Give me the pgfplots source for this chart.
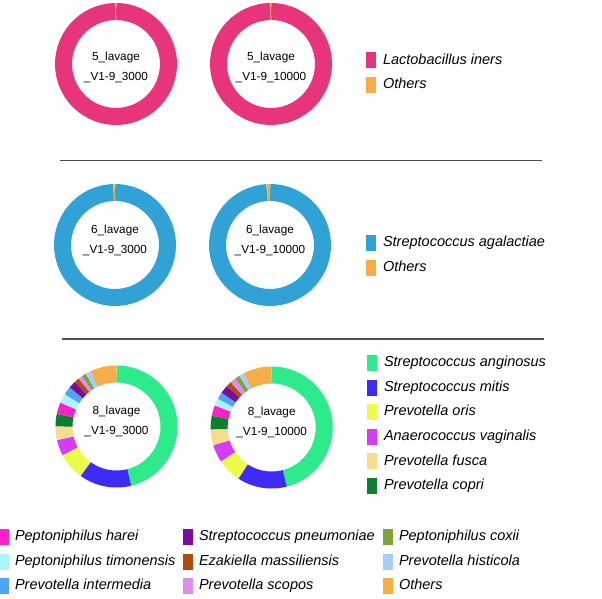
\documentclass[border=0pt]{standalone}
\usepackage{pgfplots}
\pgfplotsset{compat=1.18}
\usepackage{fontspec}
\setmainfont{Liberation Sans}

\definecolor{pinkL}{HTML}{E8347A}
\definecolor{othersC}{HTML}{F5AD47}
\definecolor{agalC}{HTML}{30A2D6}
\definecolor{angC}{HTML}{2DEB8A}
\definecolor{mitisC}{HTML}{3F2BF7}
\definecolor{orisC}{HTML}{EDFA48}
\definecolor{vagC}{HTML}{D63CF7}
\definecolor{fuscaC}{HTML}{F7DC8E}
\definecolor{copriC}{HTML}{0A802C}
\definecolor{hareiC}{HTML}{FC21C9}
\definecolor{timonC}{HTML}{A8F5FA}
\definecolor{intermC}{HTML}{50A5F7}
\definecolor{pneumC}{HTML}{7D0BA0}
\definecolor{ezakC}{HTML}{B04D0D}
\definecolor{scoposC}{HTML}{E08CEB}
\definecolor{coxiiC}{HTML}{7DA33A}
\definecolor{histC}{HTML}{A8CCFA}
\definecolor{sepgray}{HTML}{4D4D4D}

\newcommand{\legfont}{\fontsize{14.5}{17}\selectfont\itshape}
\newcommand{\labfont}{\fontsize{11.75}{20}\selectfont}

% draw donut segments: list of colour/percentage, clockwise from 12 o'clock
\newcommand{\donutsegs}[1]{%
  \gdef\cum{0}%
  \foreach \c/\v in {#1}{%
    \pgfmathsetmacro\newcum{\cum+\v}%
    \edef\temp{\noexpand\addplot[draw=\c, line width=17pt, line cap=butt, line join=round, no markers, domain=\cum:\newcum, samples=60] ({52.5*sin(3.6*x)},{52.5*cos(3.6*x)});}%
    \temp
    \xdef\cum{\newcum}%
  }%
}

\pgfplotsset{
  donut/.style={scale only axis, width=122pt, height=122pt,
    xmin=-61, xmax=61, ymin=-61, ymax=61, hide axis, clip=false, anchor=center},
  legax/.style={scale only axis, width=1pt, height=1pt, hide axis,
    xmin=0, xmax=1, ymin=0, ymax=1, anchor=north west,
    legend cell align=left,
    legend image code/.code={\fill[##1, draw=none] (0pt,-8pt) rectangle (10pt,8pt);},
    legend style={at={(0,1)}, anchor=north west, draw=none, fill=none,
      inner sep=0pt, outer sep=0pt, row sep=8.6pt, font=\legfont,
      nodes={inner xsep=#1, inner ysep=0pt, text height=10.5pt, text depth=3pt}}},
  legax/.default=6pt
}

\begin{document}
\begin{tikzpicture}[x=1pt,y=1pt]
\useasboundingbox (0,0) rectangle (602,599);
\clip (0,0) rectangle (602,599);

% ---------- 5_lavage ----------
\begin{axis}[donut, at={(116pt,535pt)}]
\donutsegs{pinkL/99.8, othersC/0.2}
\end{axis}
\begin{axis}[donut, at={(271pt,535pt)}]
\donutsegs{pinkL/99.8, othersC/0.2}
\end{axis}
\node[font=\labfont, align=center] at (116,532) {5\_lavage\\\_V1-9\_3000};
\node[font=\labfont, align=center] at (271,532) {5\_lavage\\\_V1-9\_10000};

\begin{axis}[legax=7pt, at={(366pt,546.5pt)}]
\addlegendimage{fill=pinkL}\addlegendentry{Lactobacillus iners}
\addlegendimage{fill=othersC}\addlegendentry{Others}
\end{axis}

\draw[sepgray, line width=1.5pt] (60,438.3) -- (542,438.3);

% ---------- 6_lavage ----------
\begin{axis}[donut, at={(115pt,354pt)}]
\donutsegs{agalC/99.6, othersC/0.4}
\end{axis}
\begin{axis}[donut, at={(270pt,354pt)}]
\donutsegs{agalC/99.1, othersC/0.9}
\end{axis}
\node[font=\labfont, align=center] at (115,359) {6\_lavage\\\_V1-9\_3000};
\node[font=\labfont, align=center] at (270,359) {6\_lavage\\\_V1-9\_10000};

\begin{axis}[legax=7pt, at={(366pt,364pt)}]
\addlegendimage{fill=agalC}\addlegendentry{Streptococcus agalactiae}
\addlegendimage{fill=othersC}\addlegendentry{Others}
\end{axis}

\draw[sepgray, line width=1.5pt] (62,260) -- (544,260);

% ---------- 8_lavage ----------
\begin{axis}[donut, at={(116.5pt,172.5pt)}]
\donutsegs{angC/46.1, mitisC/13.9, orisC/7.2, vagC/4.2, fuscaC/3.6, copriC/3.3,
  hareiC/3.1, timonC/2.5, intermC/2.2, pneumC/1.9, ezakC/1.4, scoposC/1.1,
  coxiiC/1.1, histC/1.4, othersC/7.0}
\end{axis}
\begin{axis}[donut, at={(271.7pt,171.5pt)}]
\donutsegs{angC/46.0, mitisC/13.2, orisC/6.4, vagC/4.7, fuscaC/4.2, copriC/3.6,
  hareiC/2.8, timonC/1.9, intermC/1.9, pneumC/2.2, ezakC/1.4, scoposC/1.5,
  coxiiC/1.3, histC/1.3, othersC/7.6}
\end{axis}
\node[font=\labfont, align=center] at (116.5,177.5) {8\_lavage\\\_V1-9\_3000};
\node[font=\labfont, align=center] at (271.7,176.5) {8\_lavage\\\_V1-9\_10000};

\begin{axis}[legax=7pt, at={(367pt,244pt)}]
\addlegendimage{fill=angC}\addlegendentry{Streptococcus anginosus}
\addlegendimage{fill=mitisC}\addlegendentry{Streptococcus mitis}
\addlegendimage{fill=orisC}\addlegendentry{Prevotella oris}
\addlegendimage{fill=vagC}\addlegendentry{Anaerococcus vaginalis}
\addlegendimage{fill=fuscaC}\addlegendentry{Prevotella fusca}
\addlegendimage{fill=copriC}\addlegendentry{Prevotella copri}
\end{axis}

\begin{axis}[legax, at={(-1pt,70pt)}]
\addlegendimage{fill=hareiC}\addlegendentry{Peptoniphilus harei}
\addlegendimage{fill=timonC}\addlegendentry{Peptoniphilus timonensis}
\addlegendimage{fill=intermC}\addlegendentry{Prevotella intermedia}
\end{axis}
\begin{axis}[legax, at={(183pt,70pt)}]
\addlegendimage{fill=pneumC}\addlegendentry{Streptococcus pneumoniae}
\addlegendimage{fill=ezakC}\addlegendentry{Ezakiella massiliensis}
\addlegendimage{fill=scoposC}\addlegendentry{Prevotella scopos}
\end{axis}
\begin{axis}[legax, at={(383pt,70pt)}]
\addlegendimage{fill=coxiiC}\addlegendentry{Peptoniphilus coxii}
\addlegendimage{fill=histC}\addlegendentry{Prevotella histicola}
\addlegendimage{fill=othersC}\addlegendentry{Others}
\end{axis}
\end{tikzpicture}
\end{document}
